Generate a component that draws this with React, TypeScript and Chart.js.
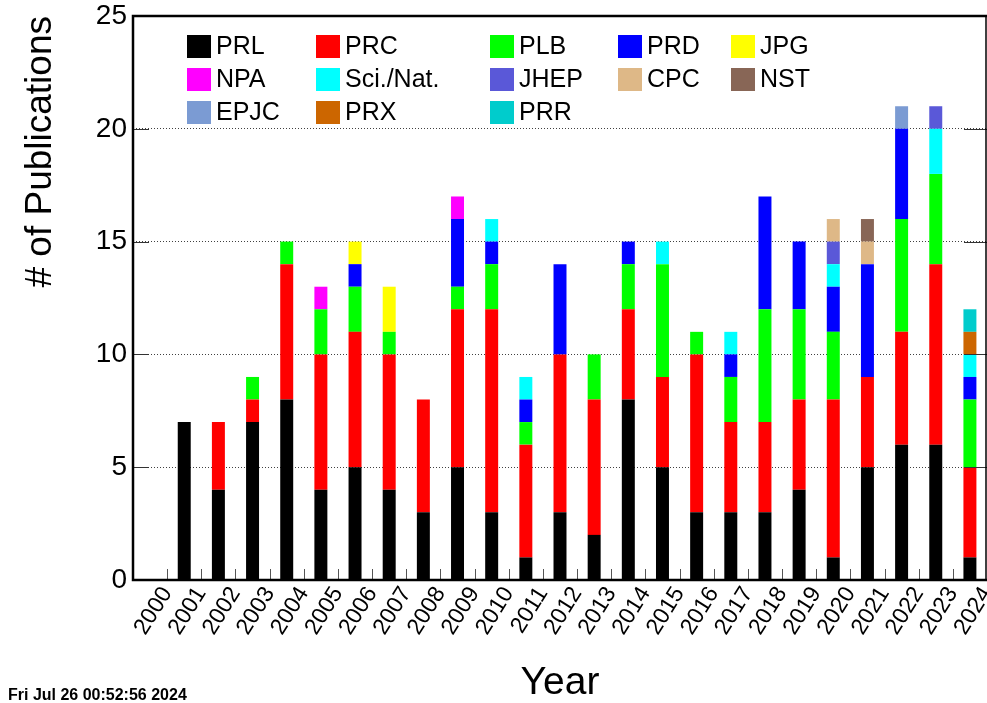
import React, { useEffect, useRef } from 'react';
import { Chart, registerables } from 'chart.js';
Chart.register(...registerables);

const years = ['2000','2001','2002','2003','2004','2005','2006','2007','2008','2009','2010','2011','2012','2013','2014','2015','2016','2017','2018','2019','2020','2021','2022','2023','2024'];

const PRL  = [0,7,4,7,8,4,5,4,3,5,3,1,3,2,8,5,3,3,3,4,1,5,6,6,1];
const PRC  = [0,0,3,1,6,6,6,6,5,7,9,5,7,6,4,4,7,4,4,4,7,4,5,8,4];
const PLB  = [0,0,0,1,1,2,2,1,0,1,2,1,0,2,2,5,1,2,5,4,3,0,5,4,3];
const PRD  = [0,0,0,0,0,0,1,0,0,3,1,1,4,0,1,0,0,1,5,3,2,5,4,0,1];
const JPG  = [0,0,0,0,0,0,1,2,0,0,0,0,0,0,0,0,0,0,0,0,0,0,0,0,0];
const NPA  = [0,0,0,0,0,1,0,0,0,1,0,0,0,0,0,0,0,0,0,0,0,0,0,0,0];
const SCI  = [0,0,0,0,0,0,0,0,0,0,1,1,0,0,0,1,0,1,0,0,1,0,0,2,1];
const JHEP = [0,0,0,0,0,0,0,0,0,0,0,0,0,0,0,0,0,0,0,0,1,0,0,1,0];
const CPC  = [0,0,0,0,0,0,0,0,0,0,0,0,0,0,0,0,0,0,0,0,1,1,0,0,0];
const NST  = [0,0,0,0,0,0,0,0,0,0,0,0,0,0,0,0,0,0,0,0,0,1,0,0,0];
const EPJC = [0,0,0,0,0,0,0,0,0,0,0,0,0,0,0,0,0,0,0,0,0,0,1,0,0];
const PRX  = [0,0,0,0,0,0,0,0,0,0,0,0,0,0,0,0,0,0,0,0,0,0,0,0,1];
const PRR  = [0,0,0,0,0,0,0,0,0,0,0,0,0,0,0,0,0,0,0,0,0,0,0,0,1];

const seriesNames = ['PRL','PRC','PLB','PRD','JPG','NPA','Sci./Nat.','JHEP','CPC','NST','EPJC','PRX','PRR'];
const seriesValues = [PRL, PRC, PLB, PRD, JPG, NPA, SCI, JHEP, CPC, NST, EPJC, PRX, PRR];
const seriesColors = ['#000000','#ff0000','#00ff00','#0000ff','#ffff00','#ff00ff','#00ffff','#5a58d8','#deb887','#886656','#7b9bd3','#cc6600','#00cccc'];

const yTicks = [0, 5, 10, 15, 20, 25];
const timestamp = 'Fri Jul 26 00:52:56 2024';
const FONT = '"Liberation Sans", Arial, Helvetica, sans-serif';

const framePlugin = {
  id: 'rootFrame',
  afterDatasetsDraw(chart: any) {
    const { ctx, chartArea: a, scales } = chart;
    const xs = scales.x;
    const ys = scales.y;
    ctx.save();
    const n = years.length;
    const bw = (a.right - a.left) / n;
    ctx.strokeStyle = '#555';
    ctx.lineWidth = 1;
    for (let i = 1; i < n; i++) {
      const x = Math.round(xs.getPixelForTick(i) - bw / 2) + 0.5;
      ctx.beginPath();
      ctx.moveTo(x, a.bottom);
      ctx.lineTo(x, a.bottom - 11);
      ctx.stroke();
    }
    ctx.strokeStyle = '#333';
    yTicks.forEach((v) => {
      const y = Math.round(ys.getPixelForValue(v)) + 0.5;
      ctx.beginPath();
      ctx.moveTo(a.left, y);
      ctx.lineTo(a.left + 16, y);
      ctx.moveTo(a.right, y);
      ctx.lineTo(a.right - 23, y);
      ctx.stroke();
    });
    ctx.strokeStyle = '#000';
    ctx.lineWidth = 2.5;
    ctx.beginPath();
    ctx.moveTo(a.right, a.top);
    ctx.lineTo(a.left, a.top);
    ctx.lineTo(a.left, a.bottom);
    ctx.lineTo(a.right, a.bottom);
    ctx.stroke();
    ctx.lineWidth = 1.5;
    ctx.beginPath();
    ctx.moveTo(a.right - 1, a.top);
    ctx.lineTo(a.right - 1, a.bottom);
    ctx.stroke();
    ctx.restore();
  },
  afterDraw(chart: any) {
    const { ctx } = chart;
    ctx.save();
    const cols = [187, 316, 490, 618, 731];
    const rows = [35, 68, 101];
    ctx.font = '25px ' + FONT;
    ctx.textBaseline = 'middle';
    ctx.textAlign = 'left';
    chart.data.datasets.forEach((ds: any, i: number) => {
      const c = i % 5;
      const r = Math.floor(i / 5);
      ctx.fillStyle = ds.backgroundColor;
      ctx.fillRect(cols[c], rows[r], 24, 23);
      ctx.fillStyle = '#000';
      ctx.fillText(ds.label, cols[c] + 29, rows[r] + 12);
    });
    ctx.font = 'bold 16px ' + FONT;
    ctx.textBaseline = 'alphabetic';
    ctx.fillStyle = '#000';
    ctx.fillText(timestamp, 8, 700);
    ctx.restore();
  },
};

export default function App() {
  const ref = useRef<HTMLCanvasElement>(null);
  useEffect(() => {
    if (!ref.current) return;
    const chart = new Chart(ref.current, {
      type: 'bar',
      data: {
        labels: years,
        datasets: seriesNames.map((name, i) => ({
          label: name,
          data: seriesValues[i],
          backgroundColor: seriesColors[i],
          borderWidth: 0,
          barPercentage: 0.38,
          categoryPercentage: 1,
        })),
      },
      options: {
        responsive: false,
        animation: false,
        devicePixelRatio: 1,
        layout: { padding: { left: 0, top: 16, right: 0, bottom: 0 } },
        plugins: { legend: { display: false }, tooltip: { enabled: false } },
        scales: {
          x: {
            stacked: true,
            offset: true,
            grid: { display: false, drawTicks: false },
            border: { display: false },
            ticks: {
              autoSkip: false,
              minRotation: 58,
              maxRotation: 58,
              color: '#000',
              padding: 2,
              labelOffset: 17,
              font: { family: FONT, size: 23 },
            },
            title: {
              display: true,
              text: 'Year',
              color: '#000',
              font: { family: FONT, size: 39, lineHeight: 1 },
              padding: 0,
            },
            afterFit: (s: any) => { s.height = 123; s.paddingLeft = 0; s.paddingRight = 0; },
          },
          y: {
            stacked: true,
            min: 0,
            max: 25,
            grid: { color: 'rgba(0,0,0,0.75)', lineWidth: 1, drawTicks: false },
            border: { display: false, dash: [1, 2] },
            ticks: {
              stepSize: 5,
              color: '#000',
              padding: 6,
              font: { family: FONT, size: 28 },
            },
            title: {
              display: true,
              text: '# of Publications',
              align: 'end',
              color: '#000',
              font: { family: FONT, size: 37, lineHeight: 1 },
              padding: { top: 22, bottom: 0 },
            },
            afterFit: (s: any) => { s.width = 133; s.paddingTop = 0; s.paddingBottom = 0; },
          },
        },
      },
      plugins: [framePlugin],
    } as any);
    return () => chart.destroy();
  }, []);
  return (
    <div style={{ position: 'absolute', left: 0, top: 0, width: 987, height: 703, background: '#fff' }}>
      <canvas ref={ref} width={987} height={703} style={{ display: 'block' }} />
    </div>
  );
}
